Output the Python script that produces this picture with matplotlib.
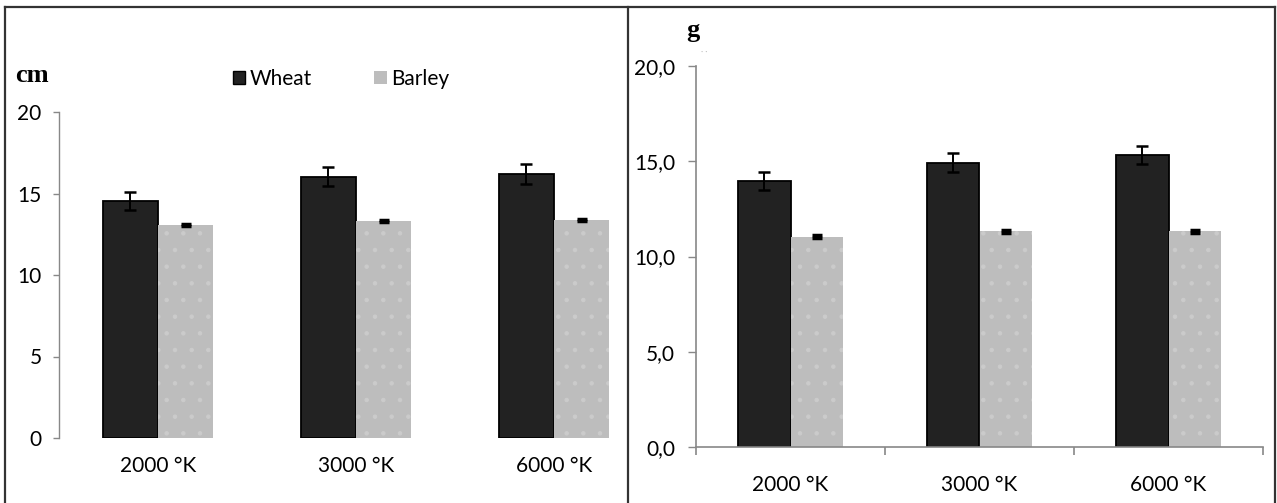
import matplotlib
matplotlib.use('Agg')
import matplotlib.pyplot as plt
from matplotlib.patches import Patch
from matplotlib.lines import Line2D
from matplotlib.ticker import FuncFormatter, FixedLocator

plt.rcParams['font.family'] = ['Lato', 'DejaVu Sans']
plt.rcParams['hatch.linewidth'] = 0.8

# ── data ─────────────────────────────────────────────────────────────
categories = ['2000 °K', '3000 °K', '6000 °K']
series_names = ['Wheat', 'Barley']

length_wheat = [14.55, 16.03, 16.2]
length_wheat_err = [0.56, 0.6, 0.6]
length_barley = [13.07, 13.31, 13.37]
length_barley_err = [0.08, 0.08, 0.08]

weight_wheat = [13.96, 14.93, 15.31]
weight_wheat_err = [0.45, 0.5, 0.48]
weight_barley = [11.04, 11.32, 11.32]
weight_barley_err = [0.07, 0.07, 0.07]

W, H = 1277, 503
WHEAT = '#222222'
BARLEY = '#bdbdbd'
SPINE = '#888888'
FS = 15


def px(x0, y0, x1, y1):
    # pixel box (top-left origin) -> figure fraction rect
    return [x0 / W, 1 - y1 / H, (x1 - x0) / W, (y1 - y0) / H]


def draw_bars(ax, wheat, wheat_err, barley, barley_err):
    x = list(range(len(categories)))
    bw = 0.28
    xw = [i - bw / 2 for i in x]
    xb = [i + bw / 2 for i in x]
    ax.bar(xw, wheat, width=bw, color=WHEAT, edgecolor='black', linewidth=1.3, zorder=2)
    ax.bar(xb, barley, width=bw, color=BARLEY, edgecolor='#cbcbcb', linewidth=0,
           hatch='.', zorder=2)
    ax.errorbar(xw, wheat, yerr=wheat_err, fmt='none', ecolor='black',
                elinewidth=1.4, capsize=4.5, capthick=1.8, zorder=3)
    ax.errorbar(xb, barley, yerr=barley_err, fmt='none', ecolor='black',
                elinewidth=2.5, capsize=3.5, capthick=2.5, zorder=3)


fig = plt.figure(figsize=(W / 100, H / 100), dpi=100)

# ── left panel: length (cm) ─────────────────────────────────────────
ax1 = fig.add_axes(px(59, 112, 628, 438))
draw_bars(ax1, length_wheat, length_wheat_err, length_barley, length_barley_err)
ax1.set_ylim(0, 20)
ax1.set_xlim(-0.5, -0.5 + (628 - 59) / 198)
ax1.set_yticks([0, 5, 10, 15, 20])
for s in ['top', 'right', 'bottom']:
    ax1.spines[s].set_visible(False)
ax1.spines['left'].set_color(SPINE)
ax1.spines['left'].set_linewidth(1.0)
ax1.tick_params(axis='y', direction='out', length=4.5, width=1.0, color=SPINE,
                labelsize=FS, pad=8)
ax1.set_xticks(range(len(categories)))
ax1.set_xticklabels(categories)
ax1.tick_params(axis='x', length=0, labelsize=FS, pad=13)
fig.text(32 / W, 1 - 75 / H, 'cm', family='Liberation Serif', fontweight='bold',
         fontsize=19, ha='center', va='center')

handles = [Patch(facecolor=WHEAT, edgecolor='black', linewidth=1.0),
           Patch(facecolor=BARLEY, edgecolor='none')]
fig.legend(handles, series_names, loc='center', bbox_to_anchor=(341 / W, 1 - 79 / H),
           ncol=2, frameon=False, fontsize=FS, handlelength=0.6, handleheight=0.6,
           handletextpad=0.2, columnspacing=3.0)

# ── right panel: weight (g) ─────────────────────────────────────────
ax2 = fig.add_axes(px(696, 66, 1263, 447))
draw_bars(ax2, weight_wheat, weight_wheat_err, weight_barley, weight_barley_err)
ax2.set_ylim(0, 20)
ax2.set_xlim(-0.5, 2.5)
ax2.set_yticks([0, 5, 10, 15, 20])
ax2.yaxis.set_major_formatter(FuncFormatter(lambda v, p: f'{v:.1f}'.replace('.', ',')))
for s in ['top', 'right']:
    ax2.spines[s].set_visible(False)
for s in ['left', 'bottom']:
    ax2.spines[s].set_color(SPINE)
    ax2.spines[s].set_linewidth(1.2)
ax2.tick_params(axis='y', direction='out', length=6, width=1.0, color=SPINE,
                labelsize=FS, pad=9)
ax2.set_xticks(range(len(categories)))
ax2.set_xticklabels(categories)
ax2.xaxis.set_minor_locator(FixedLocator([-0.5, 0.5, 1.5, 2.5]))
ax2.tick_params(axis='x', which='major', length=0, labelsize=FS, pad=20)
ax2.tick_params(axis='x', which='minor', direction='out', length=6, width=1.2, color=SPINE)
fig.text(693 / W, 1 - 30 / H, 'g', family='Liberation Serif', fontweight='bold',
         fontsize=19, ha='center', va='center')
fig.text(704 / W, 1 - 52 / H, '· ·', color='#bbbbbb', fontsize=6, ha='center', va='center')

# ── frame around the two panels ────────────────────────────────────
frame = dict(color='#333333', linewidth=1.6, transform=fig.transFigure)
fig.add_artist(Line2D([5 / W, 1275 / W], [1 - 7 / H, 1 - 7 / H], **frame))
fig.add_artist(Line2D([5 / W, 5 / W], [0, 1 - 7 / H], **frame))
fig.add_artist(Line2D([628 / W, 628 / W], [0, 1 - 7 / H], **frame))
fig.add_artist(Line2D([1275 / W, 1275 / W], [0, 1 - 7 / H], **frame))

fig.savefig('out.png', dpi=100)
